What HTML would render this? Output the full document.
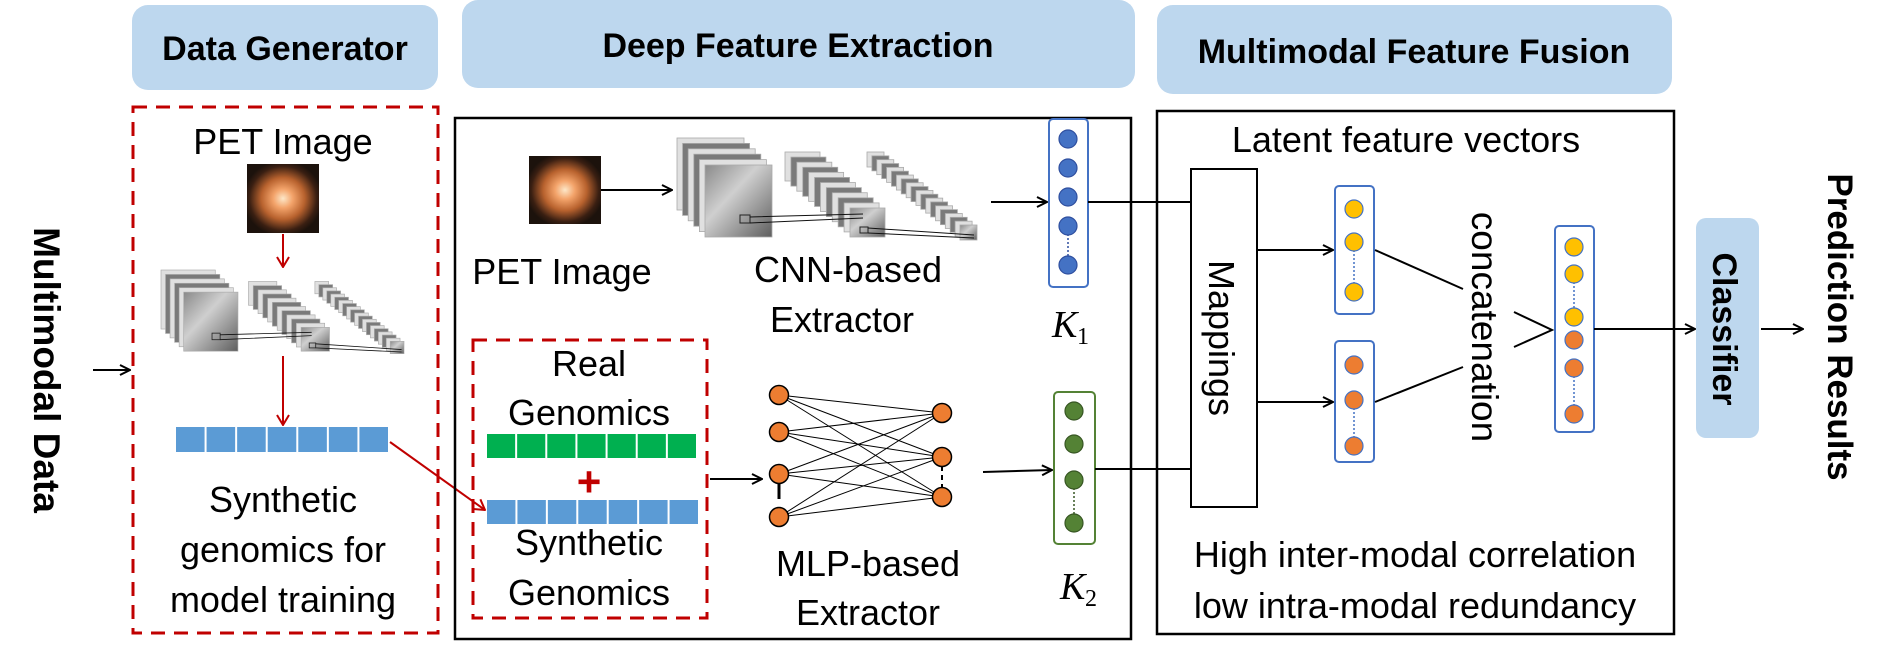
<!DOCTYPE html>
<html><head><meta charset="utf-8"><style>
html,body{margin:0;padding:0;background:#fff;}
svg{display:block;}
text{font-family:"Liberation Sans",sans-serif;fill:#000;}
.b{font-weight:bold;}
</style></head><body>
<svg id="s" width="1886" height="655" viewBox="0 0 1886 655" xmlns="http://www.w3.org/2000/svg">
<defs>
<radialGradient id="pet" cx="50%" cy="50%" r="55%">
<stop offset="0" stop-color="#fde7c8"/><stop offset="0.25" stop-color="#f3a36a"/><stop offset="0.55" stop-color="#b8622e"/><stop offset="0.85" stop-color="#3a1f12"/><stop offset="1" stop-color="#1c120c"/></radialGradient>
<linearGradient id="card" x1="0" y1="0" x2="1" y2="1"><stop offset="0" stop-color="#8a8a8a"/><stop offset="0.4" stop-color="#cfcfcf"/><stop offset="1" stop-color="#5e5e5e"/></linearGradient>
<marker id="ah" markerWidth="12" markerHeight="12" refX="11" refY="6" orient="auto" markerUnits="userSpaceOnUse"><path d="M1,1 L11,6 L1,11" fill="none" stroke="#000" stroke-width="2"/></marker>
<marker id="ar" markerWidth="12" markerHeight="14" refX="11" refY="7" orient="auto" markerUnits="userSpaceOnUse"><path d="M1,1 L11,7 L1,13" fill="none" stroke="#c00000" stroke-width="2"/></marker>
<g id="cnn"></g>
</defs>

<rect x="132" y="5" width="306" height="85" rx="16" fill="#bdd7ee"/>
<text x="285" y="60" font-size="34" class="b" text-anchor="middle">Data Generator</text>
<rect x="462" y="0" width="673" height="88" rx="16" fill="#bdd7ee"/>
<text x="798" y="57" font-size="34" class="b" text-anchor="middle">Deep Feature Extraction</text>
<rect x="1157" y="5" width="515" height="89" rx="16" fill="#bdd7ee"/>
<text x="1414" y="63" font-size="34" class="b" text-anchor="middle">Multimodal Feature Fusion</text>

<text transform="translate(34,370) rotate(90)" font-size="37" class="b" text-anchor="middle">Multimodal Data</text>
<line x1="93" y1="370" x2="130" y2="370" stroke="#000" stroke-width="2" marker-end="url(#ah)"/>

<rect x="133" y="107" width="305" height="526" fill="none" stroke="#c00000" stroke-width="3" stroke-dasharray="14,9"/>
<text x="283" y="154" font-size="36" text-anchor="middle">PET Image</text>
<rect x="247" y="164" width="72" height="69" fill="url(#pet)"/>
<line x1="283" y1="234" x2="283" y2="267" stroke="#c00000" stroke-width="2" marker-end="url(#ar)"/>
<use href="#cnn" transform="translate(161,270) scale(0.81,0.82)"/>
<line x1="283" y1="356" x2="283" y2="425" stroke="#c00000" stroke-width="2" marker-end="url(#ar)"/>
<g id="bbar1"></g>
<text x="283" y="512" font-size="36" text-anchor="middle">Synthetic</text>
<text x="283" y="562" font-size="36" text-anchor="middle">genomics for</text>
<text x="283" y="612" font-size="36" text-anchor="middle">model training</text>
<line x1="390" y1="442" x2="485" y2="510" stroke="#c00000" stroke-width="2" marker-end="url(#ar)"/>

<rect x="455" y="118" width="676" height="521" fill="none" stroke="#000" stroke-width="2.5"/>
<rect x="529" y="156" width="72" height="68" fill="url(#pet)"/>
<line x1="601" y1="190" x2="672" y2="190" stroke="#000" stroke-width="2" marker-end="url(#ah)"/>
<use href="#cnn" transform="translate(677,138)"/>
<text x="562" y="284" font-size="36" text-anchor="middle">PET Image</text>
<text x="848" y="282" font-size="36" text-anchor="middle">CNN-based</text>
<text x="842" y="332" font-size="36" text-anchor="middle">Extractor</text>

<rect x="473" y="340" width="234" height="278" fill="none" stroke="#c00000" stroke-width="3" stroke-dasharray="14,9"/>
<text x="589" y="376" font-size="36" text-anchor="middle">Real</text>
<text x="589" y="425" font-size="36" text-anchor="middle">Genomics</text>
<g id="gbar"></g>
<text x="589" y="496" font-size="42" class="b" style="fill:#c00000" text-anchor="middle">+</text>
<g id="bbar2"></g>
<text x="589" y="555" font-size="36" text-anchor="middle">Synthetic</text>
<text x="589" y="605" font-size="36" text-anchor="middle">Genomics</text>
<line x1="710" y1="479" x2="762" y2="479" stroke="#000" stroke-width="2" marker-end="url(#ah)"/>
<g id="mlp"></g>
<text x="868" y="576" font-size="36" text-anchor="middle">MLP-based</text>
<text x="868" y="625" font-size="36" text-anchor="middle">Extractor</text>
<line x1="983" y1="472" x2="1052" y2="470" stroke="#000" stroke-width="2" marker-end="url(#ah)"/>
<line x1="991" y1="202" x2="1047" y2="202" stroke="#000" stroke-width="2" marker-end="url(#ah)"/>

<rect x="1049" y="119" width="39" height="168" rx="4" fill="#fff" stroke="#4472c4" stroke-width="2"/>
<g id="k1"></g>
<text x="1052" y="337" font-size="38" style="font-family:'Liberation Serif',serif;font-style:italic">K</text>
<text x="1077" y="344" font-size="24" style="font-family:'Liberation Serif',serif">1</text>
<rect x="1054" y="392" width="41" height="152" rx="4" fill="#fff" stroke="#548235" stroke-width="2"/>
<g id="k2"></g>
<text x="1060" y="599" font-size="38" style="font-family:'Liberation Serif',serif;font-style:italic">K</text>
<text x="1085" y="606" font-size="24" style="font-family:'Liberation Serif',serif">2</text>
<line x1="1088" y1="202" x2="1191" y2="202" stroke="#000" stroke-width="2"/>
<line x1="1095" y1="469" x2="1191" y2="469" stroke="#000" stroke-width="2"/>

<rect x="1157" y="111" width="517" height="523" fill="none" stroke="#000" stroke-width="2.5"/>
<text x="1406" y="152" font-size="36" text-anchor="middle">Latent feature vectors</text>
<rect x="1191" y="169" width="66" height="338" fill="#fff" stroke="#000" stroke-width="2"/>
<text transform="translate(1209,338) rotate(90)" font-size="36" text-anchor="middle">Mappings</text>
<line x1="1257" y1="250" x2="1333" y2="250" stroke="#000" stroke-width="2" marker-end="url(#ah)"/>
<line x1="1257" y1="402" x2="1333" y2="402" stroke="#000" stroke-width="2" marker-end="url(#ah)"/>
<rect x="1335" y="186" width="39" height="128" rx="4" fill="#fff" stroke="#4472c4" stroke-width="2"/>
<rect x="1335" y="341" width="39" height="121" rx="4" fill="#fff" stroke="#4472c4" stroke-width="2"/>
<g id="yv"></g>
<line x1="1375" y1="250" x2="1463" y2="289" stroke="#000" stroke-width="2"/>
<line x1="1375" y1="402" x2="1463" y2="367" stroke="#000" stroke-width="2"/>
<text transform="translate(1472,327) rotate(90)" font-size="37" text-anchor="middle">concatenation</text>
<path d="M1514,312 L1552,330 L1514,347" fill="none" stroke="#000" stroke-width="2"/>
<rect x="1555" y="226" width="39" height="206" rx="4" fill="#fff" stroke="#4472c4" stroke-width="2"/>
<g id="cv"></g>
<line x1="1594" y1="329" x2="1695" y2="329" stroke="#000" stroke-width="2" marker-end="url(#ah)"/>
<text x="1415" y="567" font-size="36" text-anchor="middle">High inter-modal correlation</text>
<text x="1415" y="618" font-size="36" text-anchor="middle">low intra-modal redundancy</text>

<rect x="1696" y="218" width="63" height="220" rx="10" fill="#bdd7ee"/>
<text transform="translate(1713,329) rotate(90)" font-size="34" class="b" text-anchor="middle">Classifier</text>
<line x1="1761" y1="329" x2="1803" y2="329" stroke="#000" stroke-width="2" marker-end="url(#ah)"/>
<text transform="translate(1828,327) rotate(90)" font-size="35" class="b" text-anchor="middle">Prediction Results</text>
</svg>
<script>
var NS="http://www.w3.org/2000/svg";
function el(p,t,a){var e=document.createElementNS(NS,t);for(var k in a)e.setAttribute(k,a[k]);document.getElementById(p).appendChild(e);return e;}
function stack(n,bx,by,fx,fy,w,h){for(var i=0;i<n;i++){var t=n==1?1:i/(n-1);var x=bx+(fx-bx)*t,y=by+(fy-by)*t;
el("cnn","rect",{x:x,y:y,width:w,height:h,fill:i==n-1?"url(#card)":(i%2?"#7a7a7a":"#e0e0e0"),stroke:"#aaa","stroke-width":"0.8"});}}
stack(6,0,0,28,27,67,72);
stack(12,108,14,173,70,35,29);
stack(20,190,14,283,87,17,15);
el("cnn","rect",{x:63,y:77,width:10,height:8,fill:"none",stroke:"#222","stroke-width":"1"});
el("cnn","path",{d:"M73,79 L186,76 M73,85 L186,80",stroke:"#111","stroke-width":"1",fill:"none"});
el("cnn","rect",{x:183,y:89,width:8,height:6,fill:"none",stroke:"#222","stroke-width":"1"});
el("cnn","path",{d:"M191,90 L297,97 M191,95 L297,100",stroke:"#111","stroke-width":"1",fill:"none"});
function bar(p,x,y,w,h,n,c){var cw=w/n;for(var i=0;i<n;i++)el(p,"rect",{x:x+i*cw,y:y,width:cw-2,height:h,fill:c});}
bar("bbar1",176,427,214,25,7,"#5b9bd5");
bar("gbar",487,434,211,24,7,"#00b050");
bar("bbar2",487,500,213,24,7,"#5b9bd5");
var L=[[779,395],[779,432],[779,474],[779,517]],R=[[942,413],[942,457],[942,497]];
L.forEach(function(a){R.forEach(function(b){el("mlp","line",{x1:a[0],y1:a[1],x2:b[0],y2:b[1],stroke:"#000","stroke-width":"1"});});});
el("mlp","line",{x1:779,y1:483,x2:779,y2:499,stroke:"#000","stroke-width":"3"});
el("mlp","line",{x1:942,y1:466,x2:942,y2:488,stroke:"#000","stroke-width":"2","stroke-dasharray":"5,4"});
L.concat(R).forEach(function(a){el("mlp","circle",{cx:a[0],cy:a[1],r:9.5,fill:"#ed7d31",stroke:"#000","stroke-width":"1.5"});});
function vec(p,x,ys,cols,dot,dc){ if(dot){dot.forEach(function(d){el(p,"line",{x1:x,y1:ys[d[0]],x2:x,y2:ys[d[1]],stroke:dc,"stroke-width":"1.5","stroke-dasharray":"2,2"});});}
ys.forEach(function(y,i){el(p,"circle",{cx:x,cy:y,r:9,fill:cols[i],stroke:dc,"stroke-width":"1.2"});});}
vec("k1",1068,[139,168,197,226,265],Array(5).fill("#4472c4"),[[3,4]],"#2f4f9f");
vec("k2",1074,[411,444,480,523],Array(4).fill("#548235"),[[2,3]],"#375623");
vec("yv",1354,[209,242,292],Array(3).fill("#ffc000"),[[1,2]],"#4472c4");
vec("yv",1354,[365,400,446],Array(3).fill("#ed7d31"),[[1,2]],"#4472c4");
vec("cv",1574,[247,274,317,340,368,414],["#ffc000","#ffc000","#ffc000","#ed7d31","#ed7d31","#ed7d31"],[[1,2],[4,5]],"#4472c4");
</script>
</body></html>
